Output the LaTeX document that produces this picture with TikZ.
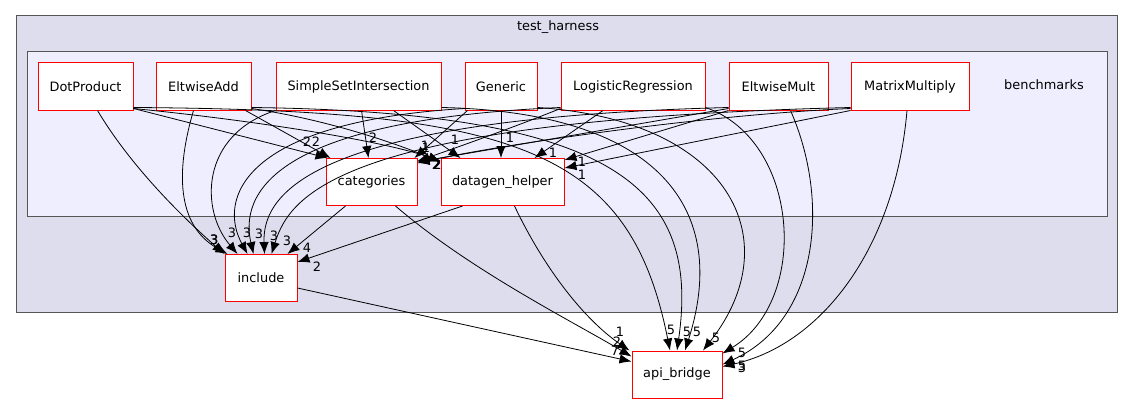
\documentclass[tikz,border=0pt]{standalone}
\usepackage{fontspec}
\setmainfont{DejaVu Sans}
\usetikzlibrary{arrows.meta}

\definecolor{outerfill}{HTML}{DDDDEE}
\definecolor{innerfill}{HTML}{EEEEFF}
\definecolor{clusterline}{HTML}{555555}

\tikzset{
  dirbox/.style={draw=red, fill=white, line width=1pt, minimum height=47pt, inner sep=0pt,
                 font=\fontsize{12.9}{15}\selectfont},
  dep/.style={-{Latex[length=12pt,width=9.5pt]}, line width=0.8pt},
  num/.style={font=\fontsize{12.9}{15}\selectfont, inner sep=0pt},
}

\begin{document}
\begin{tikzpicture}[x=1pt, y=-1pt]
    \useasboundingbox (0,0) rectangle (1135,404);

    % clusters
    \draw [fill=outerfill, draw=clusterline, line width=1pt] (16,16) rectangle (1117,312);
    \node [num] (th) at (558,27) {test\_harness};
    \draw [fill=innerfill, draw=clusterline, line width=1pt] (27,52) rectangle (1107,216);
    \node [num] (bm) at (1044,85) {benchmarks};

    % directories
    \node [dirbox, minimum width=95pt]  (dot) at (85.5,86.5)  {DotProduct};
    \node [dirbox, minimum width=95pt]  (ea)  at (203.5,86.5) {EltwiseAdd};
    \node [dirbox, minimum width=165pt] (ssi) at (358.5,86.5) {SimpleSetIntersection};
    \node [dirbox, minimum width=72pt]  (gen) at (501,86.5)   {Generic};
    \node [dirbox, minimum width=144pt] (lr)  at (633,86.5)   {LogisticRegression};
    \node [dirbox, minimum width=99pt]  (em)  at (778.5,86.5) {EltwiseMult};
    \node [dirbox, minimum width=118pt] (mm)  at (910,86.5)   {MatrixMultiply};
    \node [dirbox, minimum width=91pt]  (cat) at (371.5,182)  {categories};
    \node [dirbox, minimum width=123pt] (dg)  at (502.5,182)  {datagen\_helper};
    \node [dirbox, minimum width=72pt]  (inc) at (261,278)    {include};
    \node [dirbox, minimum width=90pt]  (api) at (677,374.5)  {api\_bridge};

    % into include
    \draw [dep] ([xshift=12pt]dot.south) .. controls (130,165) and (180,215) .. (inc.north west) node [num] at (214,240) {3};
    \draw [dep] ([xshift=-10pt]ea.south) .. controls (176,170) and (176,225) .. ([xshift=3pt]inc.north west) node [num] at (214.6,240) {3};
    \draw [dep] (ssi.south west) .. controls (200,135) and (200,210) .. ([xshift=13pt]inc.north west) node [num] at (232,233) {3};
    \draw [dep] ([yshift=2pt]gen.south west) .. controls (240,122) and (218,200) .. ([xshift=23pt]inc.north west) node [num] at (247,233) {3};
    \draw [dep] ([yshift=3pt]lr.south west) .. controls (270,120) and (240,195) .. ([xshift=29pt]inc.north west) node [num] at (259,234) {3};
    \draw [dep] ([yshift=3pt]em.south west) .. controls (320,118) and (262,190) .. ([xshift=40pt]inc.north west) node [num] at (274,236) {3};
    \draw [dep] ([yshift=3pt]mm.south west) .. controls (340,120) and (290,195) .. ([xshift=47pt]inc.north west) node [num] at (287,241) {3};
    \draw [dep] ([xshift=20pt]cat.south west) -- ([xshift=63pt]inc.north west) node [num] at (307,248) {4};
    \draw [dep] ([xshift=22pt]dg.south west) -- ([yshift=-8pt]inc.north east) node [num] at (317,267) {2};

    % into api_bridge
    \draw [dep] ([yshift=-10pt]inc.east) -- ([yshift=-11pt]api.north west) node [num] at (615,351) {7};
    \draw [dep] ([xshift=-22pt]cat.south east) .. controls (470,270) and (570,320) .. ([yshift=-6pt]api.north west) node [num] at (617,342) {2};
    \draw [dep] ([xshift=-50pt]dg.south east) .. controls (545,270) and (585,320) .. ([xshift=-2pt]api.north west) node [num] at (620,332) {1};
    \draw [dep] ([yshift=3pt]dot.south east) .. controls (520,110) and (630,150) .. ([xshift=-7pt]api.north) node [num] at (671,330) {5};
    \draw [dep] ([yshift=3pt]ea.south east) .. controls (620,112) and (700,190) .. (api.north) node [num] at (687,332) {5};
    \draw [dep] ([yshift=3pt]ssi.south east) .. controls (660,112) and (730,210) .. ([xshift=8pt]api.north) node [num] at (697,332) {5};
    \draw [dep] ([yshift=3pt]gen.south east) .. controls (730,120) and (790,240) .. ([xshift=26pt]api.north) node [num] at (716,338) {5};
    \draw [dep] ([yshift=3pt]lr.south east) .. controls (800,140) and (810,300) .. ([yshift=-3pt]api.north east) node [num] at (742,353) {5};
    \draw [dep] ([xshift=12pt]em.south) .. controls (830,200) and (820,320) .. ([yshift=-14pt]api.north east) node [num] at (742,366) {5};
    \draw [dep] ([xshift=-3pt]mm.south) .. controls (895,250) and (820,345) .. ([yshift=-16pt]api.north east) node [num] at (742,368) {3};

    % into categories
    \draw [dep] ([yshift=2pt]dot.south east) -- ([xshift=2pt]cat.north west) node [num] at (307,142) {2};
    \draw [dep] ([xshift=-6pt]ea.south east) -- ([xshift=5pt]cat.north west) node [num] at (316,142) {2};
    \draw [dep] ([xshift=3pt]ssi.south) -- ([xshift=-3pt]cat.north) node [num] at (373,138) {2};
    \draw [dep] ([xshift=3pt]gen.south west) -- ([xshift=-3pt]cat.north east) node [num] at (425,146) {1};
    \draw [dep] ([yshift=2pt]lr.south west) .. controls (520,125) and (450,150) .. ([yshift=-3pt]cat.north east) node [num] at (426,148) {1};
    \draw [dep] ([yshift=2pt]em.south west) -- ([yshift=-4pt]cat.north east) node [num] at (436,165) {2};
    \draw [dep] ([yshift=2pt]mm.south west) .. controls (700,115) and (500,145) .. ([yshift=-5pt]cat.north east) node [num] at (436.6,165) {2};

    % into datagen_helper
    \draw [dep] ([yshift=2pt]dot.south east) .. controls (250,120) and (380,140) .. ([yshift=-3pt]dg.north west) node [num] at (437,165) {2};
    \draw [dep] ([yshift=2pt]ea.south east) .. controls (330,120) and (400,145) .. ([yshift=-4pt]dg.north west) node [num] at (437.5,165) {2};
    \draw [dep] ([xshift=35pt]ssi.south) -- ([xshift=20pt]dg.north west) node [num] at (455,140) {1};
    \draw [dep] (gen.south) -- ([xshift=-1.5pt]dg.north) node [num] at (510,138) {1};
    \draw [dep] ([xshift=-30pt]lr.south) -- ([xshift=32pt]dg.north) node [num] at (553,153) {1};
    \draw [dep] (em.south west) -- ([yshift=-2pt]dg.north east) node [num] at (582,162) {1};
    \draw [dep] (mm.south west) -- ([yshift=-10pt]dg.north east) node [num] at (582,175) {1};
\end{tikzpicture}
\end{document}
